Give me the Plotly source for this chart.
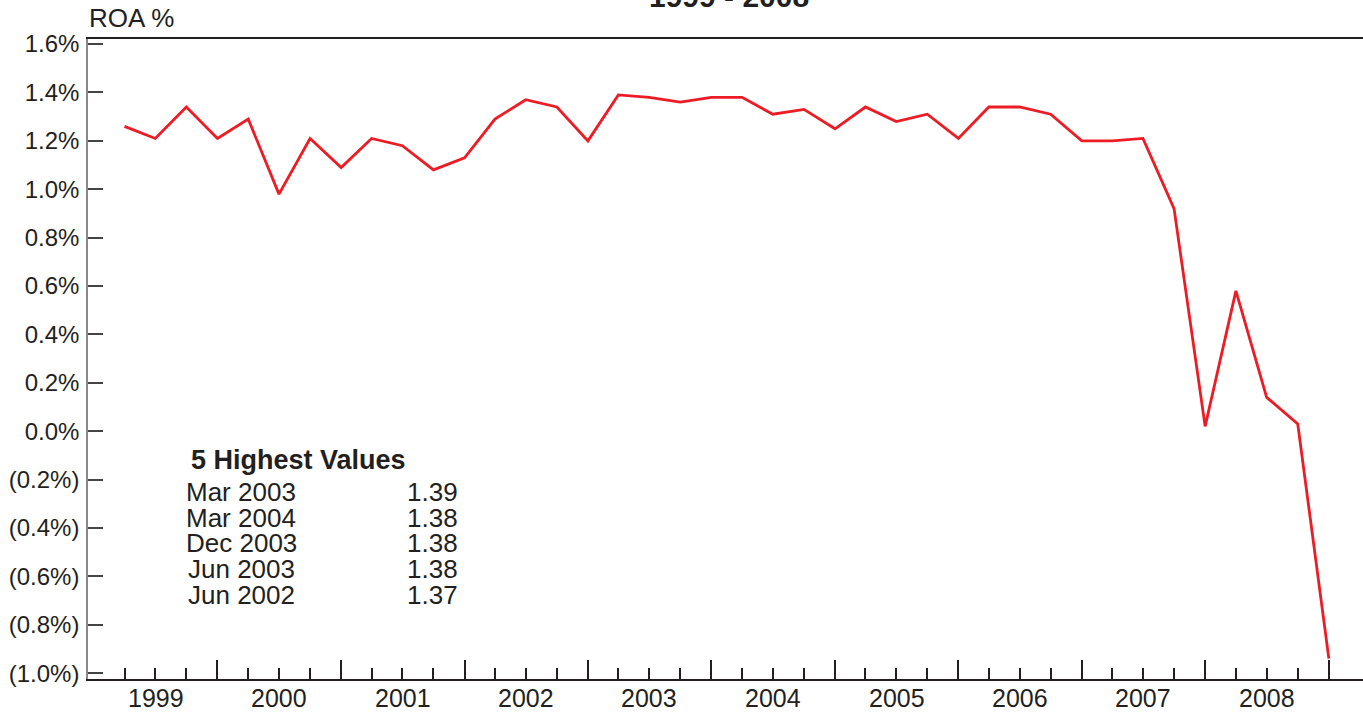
import pandas as pd
import plotly.graph_objects as go

# quarterly ROA, Mar 1999 .. Dec 2008
quarters = pd.date_range("1999-03-31", "2008-12-31", freq="QE").strftime("%Y-%m-%d").tolist()
roa = [1.26, 1.21, 1.34, 1.21,
       1.29, 0.98, 1.21, 1.09,
       1.21, 1.18, 1.08, 1.13,
       1.29, 1.37, 1.34, 1.20,
       1.39, 1.38, 1.36, 1.38,
       1.38, 1.31, 1.33, 1.25,
       1.34, 1.28, 1.31, 1.21,
       1.34, 1.34, 1.31, 1.20,
       1.20, 1.21, 0.92, 0.02,
       0.58, 0.14, 0.03, -0.94]

years = [str(y) for y in range(1999, 2009)]
year_mid = [f"{y}-07-01" for y in years]
year_end = [f"{y}-12-31" for y in years]
# quarter ends that are not year ends get the short ticks
inner_quarters = [q for q in quarters if not q.endswith("-12-31")]

y_ticks = [1.6, 1.4, 1.2, 1.0, 0.8, 0.6, 0.4, 0.2, 0.0, -0.2, -0.4, -0.6, -0.8, -1.0]
y_labels = ["1.6%", "1.4%", "1.2%", "1.0%", "0.8%", "0.6%", "0.4%", "0.2%", "0.0%",
            "(0.2%)", "(0.4%)", "(0.6%)", "(0.8%)", "(1.0%)"]

top_dates = ["Mar 2003", "Mar 2004", "Dec 2003", "Jun 2003", "Jun 2002"]
top_values = ["1.39", "1.38", "1.38", "1.38", "1.37"]

FONT = "Liberation Sans, Arial, sans-serif"
INK = "#231f20"
XRANGE = ["1998-12-13", "2009-04-11"]

fig = go.Figure(go.Scatter(
    x=quarters, y=roa, mode="lines",
    line=dict(color="#ED1C24", width=2.8),
    showlegend=False,
))

# pixel -> paper helpers (plot area 88..1363 x 39..679)
def px(x):
    return (x - 88) / 1275

def py(y):
    return (679 - y) / 640

annotations = [
    dict(text="ROA %", x=px(87), y=py(18), xanchor="left", yanchor="middle",
         font=dict(size=26)),
    dict(text="<b>1999 - 2008</b>", x=px(729), y=py(-3), xanchor="center", yanchor="middle",
         font=dict(size=30)),
    dict(text="<b>5 Highest Values</b>", x=px(298), y=py(460), xanchor="center", yanchor="middle",
         font=dict(size=27)),
]
row_y = [492, 517.5, 543, 569, 594.5]
for d, v, ry in zip(top_dates, top_values, row_y):
    annotations.append(dict(text=d, x=px(241), y=py(ry), xanchor="center", yanchor="middle",
                            font=dict(size=26)))
    annotations.append(dict(text=v, x=px(460), y=py(ry), xanchor="right", yanchor="middle",
                            font=dict(size=26)))
for a in annotations:
    a.update(xref="paper", yref="paper", showarrow=False)

# year labels centred on each year
for yr, mid in zip(years, year_mid):
    annotations.append(dict(text=yr, x=mid, xref="x", y=py(698), yref="paper",
                            xanchor="center", yanchor="middle", showarrow=False,
                            font=dict(size=25)))
for a in annotations:
    a["font"].update(family=FONT, color=INK)

fig.update_layout(
    width=1363, height=715,
    margin=dict(l=88, r=0, t=39, b=36),
    plot_bgcolor="white", paper_bgcolor="white",
    font=dict(family=FONT, color=INK),
    xaxis=dict(
        type="date", range=XRANGE,
        tickmode="array", tickvals=year_end, ticktext=[""] * len(year_end),
        ticks="inside", ticklen=19, tickwidth=2, tickcolor=INK,
        minor=dict(tickmode="array", tickvals=inner_quarters, ticks="inside", ticklen=11,
                   tickwidth=2, tickcolor=INK, showgrid=False),
        showline=True, linecolor=INK, linewidth=2, mirror=True,
        showgrid=False, zeroline=False,
    ),
    yaxis=dict(
        range=[-1.024, 1.621],
        tickmode="array", tickvals=y_ticks, ticktext=y_labels,
        ticks="inside", ticklen=15, tickwidth=1.5, tickcolor="#444",
        tickfont=dict(size=24, family=FONT, color=INK),
        ticklabelstandoff=2,
        showline=True, linecolor="#888", linewidth=1.5,
        showgrid=False, zeroline=False,
    ),
    annotations=annotations,
)

# drop the default page margin so the figure sits at the window's corner
fig.write_html("out.html", config={"displayModeBar": False},
               post_script="document.body.style.margin='0';")
